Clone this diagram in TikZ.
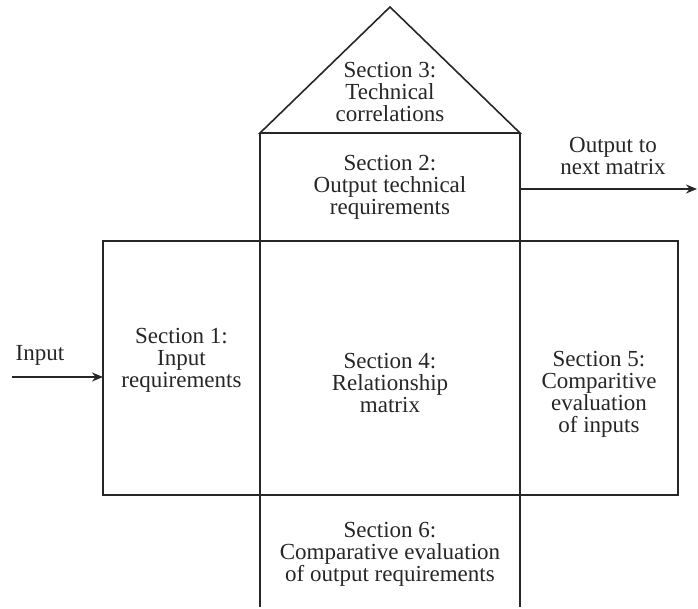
\documentclass[tikz,border=0pt]{standalone}
\usepackage{fontspec}
\setmainfont{Liberation Serif}
\usetikzlibrary{arrows.meta,positioning}
\tikzset{
  >={Stealth[length=5.5pt,width=4.5pt]},
  wall/.style={line width=0.8pt,draw=black!85},
  sect/.style={align=center,inner sep=0pt,font=\fontsize{11.5}{11}\selectfont,text=black!85},
  flow/.style={->,line width=1.15pt,draw=black!85},
}
\begin{document}
\begin{tikzpicture}[x=0.5pt,y=-0.5pt]
  \useasboundingbox (0,0) rectangle (698,609);
  % house outline
  \coordinate (apex) at (390,7);
  \coordinate (roofL) at (260,133);
  \coordinate (roofR) at (520,133);
  \coordinate (footL) at (260,607);
  \coordinate (footR) at (520,607);
  \draw[wall] (roofL) -- (apex) -- (roofR) -- cycle;
  \draw[wall] (roofL) -- (footL) (roofR) -- (footR);
  \node[draw,wall,inner sep=0pt,outer sep=0pt,minimum width=287.5pt,minimum height=127pt] (rel) at (390.5,368) {};
  % section texts
  \node[sect] (s3) at (390,92) {Section 3:\\Technical\\correlations};
  \node[sect] (s2) at (390,187) {Section 2:\\Output technical\\requirements};
  \node[sect] (s1) at (181.5,360) {Section 1:\\Input\\requirements};
  \node[sect] (s4) at (390,383) {Section 4:\\Relationship\\matrix};
  \node[sect] (s5) at (599,394.5) {Section 5:\\Comparitive\\evaluation\\of inputs};
  \node[sect] (s6) at (390,554) {Section 6:\\Comparative evaluation\\of output requirements};
  % input and output
  \coordinate (in) at (12,377);
  \coordinate (out) at (697,189);
  \node[sect] (inlbl) at (40,355) {Input};
  \node[sect] (outlbl) at (613,156) {Output to\\next matrix};
  \draw[flow] (in) -- (in -| rel.west);
  \draw[flow] (out -| roofR) -- (out);
\end{tikzpicture}
\end{document}
